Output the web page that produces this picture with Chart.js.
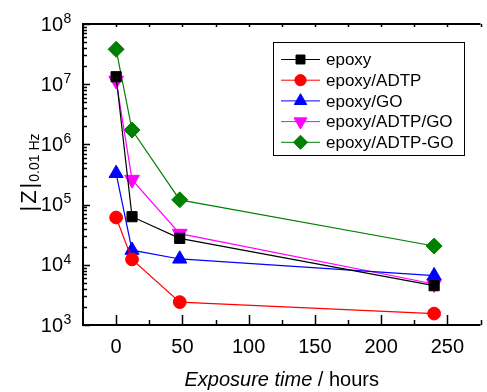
<!DOCTYPE html>
<html>
<head>
<meta charset="utf-8">
<script src="https://cdn.jsdelivr.net/npm/chart.js@4/dist/chart.umd.min.js"></script>
<style>
  html, body { margin: 0; padding: 0; background: #fff; overflow: hidden; }
  #wrap { width: 490px; height: 392px; }
</style>
</head>
<body>
<div id="wrap"><canvas id="chart" width="490" height="392"></canvas></div>
<script>
// Data (|Z| at 0.01 Hz vs exposure time)
const hours = [0, 12, 48, 240];
const seriesNames = ["epoxy", "epoxy/ADTP", "epoxy/GO", "epoxy/ADTP/GO", "epoxy/ADTP-GO"];
const epoxy = [1.33e7, 6.3e4, 2.75e4, 4.5e3];
const epoxyAdtp = [6.1e4, 1.23e4, 2.4e3, 1.55e3];
const epoxyGo = [3.3e5, 1.75e4, 1.25e4, 6.6e3];
const epoxyAdtpGo = [1.15e7, 2.6e5, 3.3e4, 4.8e3];
const epoxyAdtpGoHybrid = [3.8e7, 1.73e6, 1.2e5, 2.05e4];
const xTicks = [0, 50, 100, 150, 200, 250];
const yExponents = [3, 4, 5, 6, 7, 8];

const seriesValues = [epoxy, epoxyAdtp, epoxyGo, epoxyAdtpGo, epoxyAdtpGoHybrid];
const colours = ["#000000", "#ff0000", "#0000ff", "#ff00ff", "#008000"];
const styles = [
  { pointStyle: "rect", radius: 7.2, rotation: 0 },
  { pointStyle: "circle", radius: 6.4, rotation: 0 },
  { pointStyle: "triangle", radius: 8.2, rotation: 0 },
  { pointStyle: "triangle", radius: 8.5, rotation: 180 },
  { pointStyle: "rectRot", radius: 8, rotation: 0 },
];

const datasets = seriesNames.map((name, i) => ({
  label: name,
  data: hours.map((h, j) => ({ x: h, y: seriesValues[i][j] })),
  borderColor: colours[i],
  backgroundColor: colours[i],
  borderWidth: 1.2,
  tension: 0,
  pointStyle: styles[i].pointStyle,
  pointRadius: styles[i].radius,
  pointRotation: styles[i].rotation,
  pointBackgroundColor: colours[i],
  pointBorderColor: colours[i],
  pointBorderWidth: 1,
  clip: false,
}));

const FONT = "Arial, 'Liberation Sans', sans-serif";

// axes, ticks, labels and legend drawn on top of the chart area
const decorations = {
  id: "decorations",
  afterDraw(chart) {
    const ctx = chart.ctx;
    const area = chart.chartArea;
    const xs = chart.scales.x;
    const ys = chart.scales.y;
    ctx.save();
    ctx.strokeStyle = "#000";
    ctx.fillStyle = "#000";

    // frame: left, bottom, top
    ctx.lineWidth = 2;
    ctx.beginPath();
    ctx.moveTo(area.left, area.top);
    ctx.lineTo(area.right, area.top);
    ctx.moveTo(area.left, area.top - 1);
    ctx.lineTo(area.left, area.bottom + 1);
    ctx.moveTo(area.left - 1, area.bottom);
    ctx.lineTo(area.right, area.bottom);
    ctx.stroke();

    // y ticks (inside)
    ctx.lineWidth = 1.5;
    ctx.beginPath();
    for (let e = 3; e <= 8; e++) {
      for (let m = 1; m <= 9; m++) {
        if (e === 8 && m > 1) break;
        const py = Math.round(ys.getPixelForValue(m * Math.pow(10, e))) + 0.5;
        const len = m === 1 ? 7 : 4;
        ctx.moveTo(area.left, py);
        ctx.lineTo(area.left + len, py);
      }
    }
    // x ticks (inside, bottom and top)
    for (let v = 0; v <= 275; v += 25) {
      const px = Math.round(xs.getPixelForValue(v)) + 0.5;
      const len = v % 50 === 0 ? 10 : 5;
      ctx.moveTo(px, area.bottom);
      ctx.lineTo(px, area.bottom - len);
      ctx.moveTo(px, area.top);
      ctx.lineTo(px, area.top + 3);
    }
    ctx.stroke();

    // y tick labels 10^n
    ctx.textBaseline = "middle";
    yExponents.forEach((e) => {
      const py = ys.getPixelForValue(Math.pow(10, e));
      ctx.font = "20px " + FONT;
      ctx.textAlign = "right";
      ctx.fillText("10", 63, py + 1);
      ctx.font = "14px " + FONT;
      ctx.textAlign = "left";
      ctx.fillText(String(e), 63.5, py - 5);
    });

    // x tick labels
    ctx.font = "20px " + FONT;
    ctx.textAlign = "center";
    xTicks.forEach((v) => {
      ctx.fillText(String(v), xs.getPixelForValue(v), 347);
    });

    // x title
    ctx.textBaseline = "alphabetic";
    ctx.textAlign = "left";
    const italicPart = "Exposure time";
    const plainPart = " / hours";
    ctx.font = "italic 20px " + FONT;
    const w1 = ctx.measureText(italicPart).width;
    ctx.font = "20px " + FONT;
    const w2 = ctx.measureText(plainPart).width;
    const cx = (area.left + area.right) / 2;
    const tx = cx - (w1 + w2) / 2;
    ctx.font = "italic 20px " + FONT;
    ctx.fillText(italicPart, tx, 386);
    ctx.font = "20px " + FONT;
    ctx.fillText(plainPart, tx + w1, 386);

    // y title |Z| with subscript
    ctx.save();
    const gap = 2;
    ctx.font = "22px " + FONT;
    const barW = ctx.measureText("|").width;
    const zW = ctx.measureText("Z").width;
    const zw = barW * 2 + zW + gap * 2;
    ctx.font = "14px " + FONT;
    const sw = ctx.measureText("0.01 Hz").width;
    ctx.translate(36, 173);
    ctx.rotate(-Math.PI / 2);
    let s = -(zw + sw) / 2;
    ctx.font = "22px " + FONT;
    ctx.fillText("|", s, 0);
    ctx.fillText("Z", s + barW + gap, 0);
    ctx.fillText("|", s + barW + zW + gap * 2, 0);
    ctx.font = "14px " + FONT;
    ctx.fillText("0.01 Hz", s + zw + 1, 3);
    ctx.restore();

    // legend
    ctx.lineWidth = 1;
    ctx.strokeStyle = "#000";
    ctx.strokeRect(273.5, 42.5, 191, 113);
    ctx.font = "17px " + FONT;
    ctx.textBaseline = "middle";
    ctx.textAlign = "left";
    seriesNames.forEach((name, i) => {
      const ly = 59.5 + i * 20.7;
      ctx.strokeStyle = colours[i];
      ctx.fillStyle = colours[i];
      ctx.lineWidth = 1;
      ctx.beginPath();
      ctx.moveTo(281, ly);
      ctx.lineTo(320, ly);
      ctx.stroke();
      Chart.helpers.drawPoint(ctx, {
        pointStyle: styles[i].pointStyle,
        radius: styles[i].radius * 0.88,
        rotation: styles[i].rotation,
        borderWidth: 1,
      }, 300.5, ly);
      ctx.fillStyle = "#000";
      ctx.fillText(name, 326, ly + 1);
    });

    ctx.restore();
  },
};

new Chart(document.getElementById("chart"), {
  type: "line",
  data: { datasets: datasets },
  options: {
    responsive: false,
    animation: false,
    layout: { padding: { left: 83, top: 24, right: 2, bottom: 67 } },
    scales: {
      x: { type: "linear", min: -25, max: 275, display: false },
      y: { type: "logarithmic", min: 1e3, max: 1e8, display: false },
    },
    plugins: {
      legend: { display: false },
      tooltip: { enabled: false },
    },
  },
  plugins: [decorations],
});
</script>
</body>
</html>
